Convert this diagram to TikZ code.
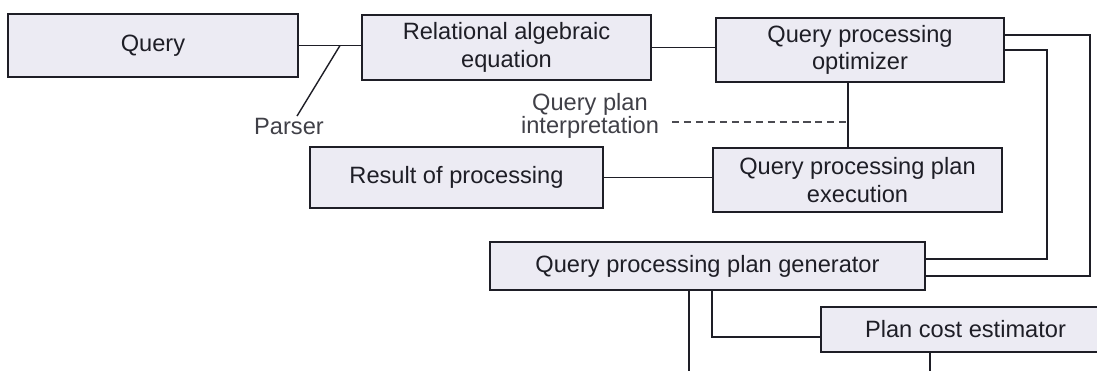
\documentclass[tikz,border=0pt]{standalone}
\usepackage{fontspec}
\setmainfont{Liberation Sans}
\usetikzlibrary{positioning}

\definecolor{boxfill}{RGB}{236,235,243}
\definecolor{inkgray}{RGB}{30,30,38}

\tikzstyle{block} = [rectangle, draw=inkgray, fill=boxfill, line width=1pt, text=inkgray,
align=center, inner sep=0pt, font=\fontsize{16.8}{19.5}\selectfont]
\tikzstyle{tag} = [text=inkgray!85, align=center, inner sep=1pt, font=\fontsize{16.8}{16}\selectfont]
\tikzstyle{line} = [draw=inkgray, line width=1pt]

\begin{document}
\begin{tikzpicture}[x=0.025cm, y=-0.025cm]

\path[use as bounding box, clip] (0,0) rectangle (1097,370);

	%Nodes for each step of the query processing
	\node[block, minimum width=7.25cm, minimum height=1.575cm](Query) at (153,45.5) {Query};
	\node[block, minimum width=7.225cm, minimum height=1.625cm](Algebra) at (506.5,47.5) {Relational algebraic\\equation};
	\node[block, minimum width=7.2cm, minimum height=1.6cm](Optimizer) at (860,50) {Query processing\\optimizer};
	\node[block, minimum width=7.325cm, minimum height=1.525cm](Result) at (456.5,177.5) {Result of processing};
	\node[block, minimum width=7.225cm, minimum height=1.6cm](Execution) at (857.5,180) {Query processing plan\\execution};
	\node[block, minimum width=10.875cm, minimum height=1.2cm](Generator) at (707.5,266) {Query processing plan generator};
	\node[block, minimum width=7.225cm, minimum height=1.125cm](Estimator) at (965.5,329.5) {Plan cost estimator};

	%Free labels
	\node[tag](Parser) at (289,126) {Parser};
	\node[tag](Interp) at (590,116) {Query plan\\interpretation};

	%Corners and free ends of the connectors
	\coordinate (ParserTip) at (340,45.5);
	\coordinate (Outer) at (1090,0);
	\coordinate (Inner) at (1047,0);
	\coordinate (Dash) at (672,122);
	\coordinate (Junction) at ([xshift=-0.3cm]Optimizer.south);
	\coordinate (Down1) at (689,372);
	\coordinate (Bend) at (712,337);
	\coordinate (Down2) at (930,372);

	%Connectors along the top row
	\path[line] (Query.east) -- (Query.east -| Algebra.west);
	\path[line] (ParserTip) -- ([xshift=0.2cm]Parser.north);
	\path[line] (Algebra.east) -- (Algebra.east -| Optimizer.west);

	%Loops from the optimizer to the plan generator
	\path[line] ([yshift=0.375cm]Optimizer.east) -| ([yshift=-0.25cm]Generator.east -| Outer) -- ([yshift=-0.25cm]Generator.east);
	\path[line] (Optimizer.east) -| ([yshift=0.175cm]Generator.east -| Inner) -- ([yshift=0.175cm]Generator.east);

	%Optimizer to execution and result
	\path[line] (Junction) -- (Junction |- Execution.north);
	\path[line, draw=inkgray!80, dash pattern=on 5pt off 3.5pt] (Dash) -- (Dash -| Junction);
	\path[line] (Result.east) -- (Result.east -| Execution.west);

	%Plan generator and cost estimator
	\path[line] (Down1 |- Generator.south) -- (Down1);
	\path[line] (Bend |- Generator.south) -- (Bend) -- (Bend -| Estimator.west);
	\path[line] (Down2 |- Estimator.south) -- (Down2);

\end{tikzpicture}
\end{document}
